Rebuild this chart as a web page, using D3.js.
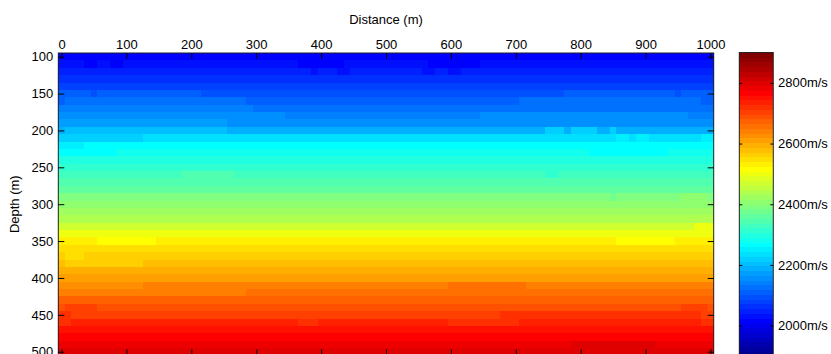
<!DOCTYPE html>
<html>
<head>
<meta charset="utf-8">
<script src="https://cdn.jsdelivr.net/npm/d3@7"></script>
<style>
  html, body { margin: 0; padding: 0; background: #fff; }
  svg { display: block; }
  text { font-family: "Liberation Sans", Arial, sans-serif; }
</style>
</head>
<body>
<svg id="chart" width="831" height="354"></svg>
<script>
// ---------------- data ----------------
const depths = [100,110,120,130,140,150,160,170,180,190,200,210,220,230,240,250,260,270,280,290,
                300,310,320,330,340,350,360,370,380,390,400,410,420,430,440,450,460,470,480,490,500];
const distances = d3.range(0, 1001, 10);
// dominant velocity of each depth row (m/s)
const rowVelocity = [2017,2033,2048,2064,2080,2095,2111,2127,2142,2158,2189,2236,2267,2283,2298,2314,2330,2345,2361,2392,
                     2408,2423,2439,2470,2502,2533,2548,2564,2580,2595,2611,2642,2658,2673,2689,2705,2736,2752,2767,2783,2798];
// lateral deviations: [depth, from distance, to distance, velocity]
const anomalies = [
  [110, 40, 50, 2017], [110, 80, 90, 2017], [110, 370, 430, 2017], [110, 570, 640, 2017],
  [120, 390, 390, 2033], [120, 430, 440, 2033], [120, 560, 570, 2033], [120, 600, 610, 2033],
  [150, 0, 40, 2111], [150, 60, 210, 2111], [150, 780, 940, 2111], [150, 960, 1000, 2111],
  [160, 10, 280, 2127], [160, 710, 980, 2127],
  [170, 0, 290, 2142],
  [180, 0, 340, 2158], [180, 650, 960, 2158],
  [190, 0, 250, 2173],
  [200, 10, 250, 2205], [200, 750, 770, 2220], [200, 790, 820, 2220], [200, 850, 850, 2220],
  [210, 0, 120, 2220], [210, 860, 870, 2252], [210, 890, 900, 2252], [210, 990, 1000, 2252],
  [220, 0, 30, 2252],
  [230, 0, 80, 2267], [230, 820, 930, 2267],
  [260, 190, 260, 2345], [260, 750, 760, 2314],
  [290, 850, 850, 2377], [290, 960, 990, 2408],
  [330, 980, 1000, 2502],
  [350, 60, 140, 2517], [350, 860, 940, 2517],
  [370, 10, 30, 2548],
  [380, 10, 120, 2564],
  [410, 0, 120, 2627], [410, 600, 710, 2658],
  [420, 0, 280, 2642],
  [440, 10, 50, 2705], [440, 960, 990, 2705],
  [450, 0, 10, 2720], [450, 680, 980, 2720],
  [460, 0, 10, 2720], [460, 370, 390, 2720], [460, 600, 700, 2720], [460, 990, 1000, 2720],
  [490, 790, 910, 2798]
];
const xTicks = [0,100,200,300,400,500,600,700,800,900,1000];
const yTicks = [100,150,200,250,300,350,400,450,500];
const colorTicks = [2000,2200,2400,2600,2800];
const velocityDomain = [1900, 2900];

// ---------------- jet colormap (64 levels) ----------------
function jet64(i) {
  let r, g, b;
  if (i < 8) { r = 0; g = 0; b = (i + 9) / 16; }
  else if (i < 24) { r = 0; g = (i - 7) / 16; b = 1; }
  else if (i < 40) { r = (i - 23) / 16; g = 1; b = 1 - (i - 23) / 16; }
  else if (i < 56) { r = 1; g = 1 - (i - 39) / 16; b = 0; }
  else { r = 1 - (i - 55) / 16; g = 0; b = 0; }
  return d3.rgb(Math.round(r * 255), Math.round(g * 255), Math.round(b * 255)).toString();
}
const levelScale = d3.scaleQuantize().domain(velocityDomain).range(d3.range(64));
const color = v => jet64(levelScale(v));

// ---------------- build grid ----------------
const cells = [];
depths.forEach((d, ri) => {
  distances.forEach(x => {
    let v = rowVelocity[ri];
    anomalies.forEach(a => { if (a[0] === d && x >= a[1] && x <= a[2]) v = a[3]; });
    cells.push({ d, x, v });
  });
});

// ---------------- layout ----------------
const svg = d3.select("#chart");
const plot = { left: 58.3, right: 713.7, top: 53, bottom: 355.4 };
const x = d3.scaleLinear().domain([-5, 1005]).range([plot.left, plot.right]);
const y = d3.scaleLinear().domain([95, 505]).range([plot.top, plot.bottom]);

svg.append("g").attr("shape-rendering", "crispEdges")
  .selectAll("rect").data(cells).join("rect")
  .attr("x", c => x(c.x - 5))
  .attr("y", c => y(c.d - 5))
  .attr("width", c => x(c.x + 5) - x(c.x - 5) + 0.6)
  .attr("height", c => y(c.d + 5) - y(c.d - 5) + 0.6)
  .attr("fill", c => color(c.v));

// box
svg.append("rect")
  .attr("x", plot.left).attr("y", plot.top)
  .attr("width", plot.right - plot.left).attr("height", plot.bottom - plot.top)
  .attr("fill", "none").attr("stroke", "#222").attr("stroke-width", 1);

const fontSize = 13;
const fmt = d3.format("d");
function styleAxis(g, showText) {
  g.select(".domain").remove();
  g.selectAll(".tick line").attr("stroke", "#000");
  g.selectAll("text").attr("font-size", fontSize).attr("fill", "#000")
    .attr("font-family", "Liberation Sans, Arial, sans-serif");
  if (!showText) g.selectAll("text").remove();
}

svg.append("g").attr("transform", `translate(0,${plot.top})`)
  .call(d3.axisTop(x).tickValues(xTicks).tickFormat(fmt).tickSizeInner(-6).tickSizeOuter(0).tickPadding(4))
  .call(g => styleAxis(g, true));
svg.append("g").attr("transform", `translate(0,${plot.bottom})`)
  .call(d3.axisBottom(x).tickValues(xTicks).tickSizeInner(-6).tickSizeOuter(0))
  .call(g => styleAxis(g, false));
svg.append("g").attr("transform", `translate(${plot.left},0)`)
  .call(d3.axisLeft(y).tickValues(yTicks).tickFormat(fmt).tickSizeInner(-6).tickSizeOuter(0).tickPadding(5))
  .call(g => styleAxis(g, true));
svg.append("g").attr("transform", `translate(${plot.right},0)`)
  .call(d3.axisRight(y).tickValues(yTicks).tickSizeInner(-6).tickSizeOuter(0))
  .call(g => styleAxis(g, false));

svg.append("text").attr("x", (plot.left + plot.right) / 2).attr("y", 24)
  .attr("text-anchor", "middle").attr("font-size", fontSize).text("Distance (m)");
svg.append("text").attr("transform", `translate(19,${(plot.top + plot.bottom) / 2}) rotate(-90)`)
  .attr("text-anchor", "middle").attr("font-size", fontSize).text("Depth (m)");

// ---------------- colorbar ----------------
const cb = { left: 739.3, right: 773.3 };
const cy = d3.scaleLinear().domain(velocityDomain).range([356, 52.5]);
const levels = d3.range(64);
const step = (velocityDomain[1] - velocityDomain[0]) / 64;
svg.append("g").attr("shape-rendering", "crispEdges")
  .selectAll("rect").data(levels).join("rect")
  .attr("x", cb.left).attr("width", cb.right - cb.left)
  .attr("y", i => cy(velocityDomain[0] + (i + 1) * step))
  .attr("height", i => cy(velocityDomain[0] + i * step) - cy(velocityDomain[0] + (i + 1) * step) + 0.5)
  .attr("fill", i => jet64(i));
svg.append("rect").attr("x", cb.left).attr("y", cy(velocityDomain[1]))
  .attr("width", cb.right - cb.left).attr("height", cy(velocityDomain[0]) - cy(velocityDomain[1]))
  .attr("fill", "none").attr("stroke", "#222");
svg.append("g").attr("transform", `translate(${cb.left},0)`)
  .call(d3.axisLeft(cy).tickValues(colorTicks).tickSizeInner(-3).tickSizeOuter(0))
  .call(g => styleAxis(g, false));
svg.append("g").attr("transform", `translate(${cb.right},0)`)
  .call(d3.axisRight(cy).tickValues(colorTicks).tickSizeInner(-3).tickSizeOuter(0))
  .call(g => styleAxis(g, false));
svg.append("g").selectAll("text").data(colorTicks).join("text")
  .attr("x", 778).attr("y", v => cy(v)).attr("dy", "0.35em")
  .attr("font-size", fontSize).text(v => v + "m/s");
</script>
</body>
</html>
